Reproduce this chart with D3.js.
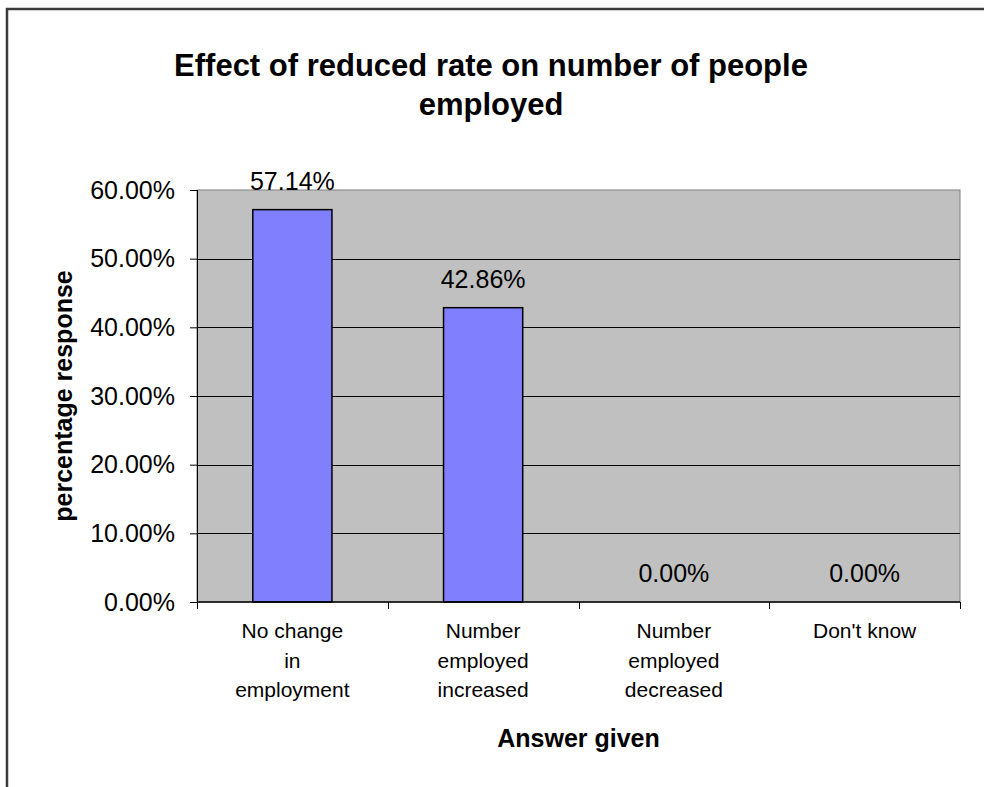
<!DOCTYPE html>
<html>
<head>
<meta charset="utf-8">
<script src="https://cdn.jsdelivr.net/npm/d3@7"></script>
<style>
  body { margin: 0; background: #fff; }
  svg { display: block; font-family: "Liberation Sans", Arial, sans-serif; }
</style>
</head>
<body>
<div id="plot"></div>
<script>
// chart data
const categories = ["No change in employment", "Number employed increased", "Number employed decreased", "Don't know"];
const categoryLines = [
  ["No change", "in", "employment"],
  ["Number", "employed", "increased"],
  ["Number", "employed", "decreased"],
  ["Don't know"]
];
const values = [57.14, 42.86, 0, 0];
const yTicks = [0, 10, 20, 30, 40, 50, 60];

const W = 984, H = 787;
const margin = {top: 190, right: 24, bottom: 185, left: 197},
    width = W - margin.left - margin.right,
    height = H - margin.top - margin.bottom;

const root = d3.select("div#plot")
  .append("svg")
  .attr("width", W)
  .attr("height", H);

// outer chart frame (runs off the right and bottom edge)
root.append("rect")
  .attr("x", 7)
  .attr("y", 9)
  .attr("width", W + 20)
  .attr("height", H + 20)
  .attr("fill", "none")
  .attr("stroke", "#3a3a3a")
  .attr("stroke-width", 2.5);

// title
root.append("text")
  .attr("text-anchor", "middle")
  .style("font-size", "31px")
  .style("font-weight", "bold")
  .selectAll("tspan")
  .data(["Effect of reduced rate on number of people", "employed"])
  .enter().append("tspan")
  .attr("x", 491)
  .attr("y", (d, i) => 76 + i * 39)
  .text(d => d);

const svg = root.append("g")
  .attr("transform", `translate(${margin.left},${margin.top})`);

const x = d3.scaleBand()
  .domain(categories)
  .range([0, width])
  .paddingInner(0.585)
  .paddingOuter(0.2925);

const y = d3.scaleLinear()
  .domain([0, 60])
  .range([height, 0]);

// plot area
svg.append("rect")
  .attr("width", width)
  .attr("height", height)
  .attr("fill", "#c0c0c0")
  .attr("stroke", "#808080")
  .attr("stroke-width", 1);

// gridlines
svg.append("g")
  .selectAll("line")
  .data(yTicks.filter(t => t > 0 && t < 60))
  .join("line")
  .attr("x1", 0)
  .attr("x2", width)
  .attr("y1", d => Math.round(y(d)) + 0.5)
  .attr("y2", d => Math.round(y(d)) + 0.5)
  .attr("stroke", "#000")
  .attr("stroke-width", 1);

// bars
svg.selectAll("rect.bar")
  .data(values)
  .join("rect")
  .attr("class", "bar")
  .attr("x", (d, i) => x(categories[i]))
  .attr("y", d => y(d))
  .attr("width", x.bandwidth())
  .attr("height", d => height - y(d))
  .attr("fill", "#8080ff")
  .attr("stroke", "#000")
  .attr("stroke-width", 1.5);

// data labels
svg.selectAll("text.lbl")
  .data(values)
  .join("text")
  .attr("class", "lbl")
  .attr("x", (d, i) => x(categories[i]) + x.bandwidth() / 2)
  .attr("y", d => y(d) - 20)
  .attr("text-anchor", "middle")
  .style("font-size", "25px")
  .text(d => d.toFixed(2) + "%");

// y axis
const yAxis = svg.append("g")
  .call(d3.axisLeft(y).tickValues(yTicks).tickSize(7).tickPadding(15)
    .tickFormat(d => d.toFixed(2) + "%"));
yAxis.selectAll("text").style("font-size", "25px").attr("fill", "#000");
yAxis.selectAll("line, path").attr("stroke", "#000");
yAxis.select("path").attr("d", `M0.5,0V${height}`);

// x axis: ticks at category boundaries
const xAxis = svg.append("g")
  .attr("transform", `translate(0,${height})`);
xAxis.append("line")
  .attr("x1", 0).attr("x2", width)
  .attr("y1", 0).attr("y2", 0)
  .attr("stroke", "#000")
  .attr("stroke-width", 1.5);
const step = x.step();
xAxis.selectAll("line.tk")
  .data(d3.range(categories.length + 1))
  .join("line")
  .attr("class", "tk")
  .attr("x1", i => Math.round(i * step) + 0.5)
  .attr("x2", i => Math.round(i * step) + 0.5)
  .attr("y1", 0).attr("y2", 7)
  .attr("stroke", "#000");

xAxis.selectAll("text.xl")
  .data(categoryLines)
  .join("text")
  .attr("class", "xl")
  .attr("text-anchor", "middle")
  .style("font-size", "21px")
  .each(function(lines, i) {
    d3.select(this).selectAll("tspan")
      .data(lines)
      .join("tspan")
      .attr("x", x(categories[i]) + x.bandwidth() / 2)
      .attr("y", (d, j) => 36 + j * 29.5)
      .text(d => d);
  });

// axis titles
root.append("text")
  .attr("x", margin.left + width / 2)
  .attr("y", 747)
  .attr("text-anchor", "middle")
  .style("font-size", "25px")
  .style("font-weight", "bold")
  .text("Answer given");

root.append("text")
  .attr("transform", `translate(72,${margin.top + height / 2}) rotate(-90)`)
  .attr("text-anchor", "middle")
  .style("font-size", "25px")
  .style("font-weight", "bold")
  .text("percentage response");
</script>
</body>
</html>
